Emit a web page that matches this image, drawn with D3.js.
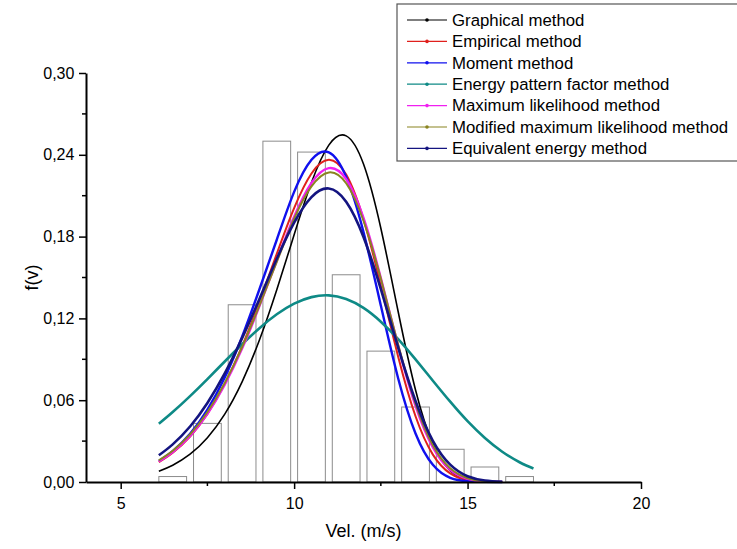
<!DOCTYPE html>
<html>
<head>
<meta charset="utf-8">
<script src="https://cdn.jsdelivr.net/npm/d3@7"></script>
<style>
  body { margin: 0; background: #fff; }
  text { font-family: "Liberation Sans", Arial, sans-serif; fill: #000; }
</style>
</head>
<body>
<svg id="chart" width="737" height="549"></svg>
<script>
// histogram (relative frequency per 1 m/s bin)
const binCenters = [6.5, 7.5, 8.5, 9.5, 10.5, 11.5, 12.5, 13.5, 14.5, 15.5, 16.5]
const binFreq = [0.004, 0.043, 0.130, 0.250, 0.242, 0.152, 0.096, 0.055, 0.024, 0.011, 0.004]

// velocities where the fitted curves were read
const velGrid = [6.1, 6.5, 7, 7.5, 8, 8.5, 9, 9.5, 10, 10.5, 11, 11.5, 12, 12.5, 13, 13.5, 14, 14.5, 15, 15.5, 16, 16.5, 16.9]

const graphical = [0.0079, 0.0123, 0.0204, 0.0325, 0.0498, 0.0735, 0.1041, 0.1410, 0.1814, 0.2197, 0.2471, 0.2539, 0.2332, 0.1861, 0.1249, 0.0675, 0.0279, 0.0083, 0.0017, 0.0002, 0.0000]
const empirical = [0.0146, 0.0215, 0.0334, 0.0500, 0.0720, 0.0996, 0.1322, 0.1674, 0.2009, 0.2263, 0.2364, 0.2255, 0.1927, 0.1442, 0.0919, 0.0482, 0.0201, 0.0063, 0.0014, 0.0002, 0.0000]
const moment = [0.0154, 0.0226, 0.0353, 0.0531, 0.0767, 0.1065, 0.1414, 0.1777, 0.2128, 0.2363, 0.2418, 0.2238, 0.1833, 0.1294, 0.0759, 0.0356, 0.0126, 0.0031, 0.0006, 0.0001, 0.0000]
const energyPattern = [0.0427, 0.0513, 0.0630, 0.0755, 0.0884, 0.1010, 0.1128, 0.1230, 0.1308, 0.1356, 0.1369, 0.1342, 0.1277, 0.1176, 0.1048, 0.0899, 0.0743, 0.0589, 0.0446, 0.0323, 0.0222, 0.0145, 0.0099]
const maxLikelihood = [0.0151, 0.0220, 0.0338, 0.0500, 0.0714, 0.0979, 0.1290, 0.1625, 0.1945, 0.2193, 0.2302, 0.2222, 0.1937, 0.1496, 0.0998, 0.0558, 0.0254, 0.0090, 0.0024, 0.0004, 0.0001]
const modifiedML = [0.0159, 0.0229, 0.0349, 0.0513, 0.0726, 0.0989, 0.1295, 0.1614, 0.1931, 0.2168, 0.2271, 0.2191, 0.1916, 0.1490, 0.1006, 0.0575, 0.0269, 0.0100, 0.0028, 0.0006, 0.0001]
const equivalentEnergy = [0.0196, 0.0276, 0.0407, 0.0580, 0.0796, 0.1055, 0.1342, 0.1637, 0.1902, 0.2090, 0.2153, 0.2056, 0.1797, 0.1415, 0.0985, 0.0594, 0.0302, 0.0127, 0.0042, 0.0011, 0.0002]

const seriesNames = ["Graphical method", "Empirical method", "Moment method", "Energy pattern factor method",
  "Maximum likelihood method", "Modified maximum likelihood method", "Equivalent energy method"]
const seriesValues = [graphical, empirical, moment, energyPattern, maxLikelihood, modifiedML, equivalentEnergy]
const seriesColors = ["#000000", "#e0201c", "#1010ee", "#0e8a86", "#f020f0", "#8a8420", "#141480"]
const seriesWidths = [1.6, 2, 2.4, 2.6, 2.4, 2, 2.6]

const xTicks = [5, 10, 15, 20]
const xMinor = [7.5, 12.5, 17.5]
const yTicks = [0, 0.06, 0.12, 0.18, 0.24, 0.30]
const yMinor = [0.03, 0.09, 0.15, 0.21, 0.27]

const svg = d3.select("#chart")
const x = d3.scaleLinear().domain([4, 20]).range([86, 641])
const y = d3.scaleLinear().domain([0, 0.30]).range([482, 73])
const fmt = (d) => d3.format(".2f")(d).replace(".", ",")

// histogram bars
svg.append("g")
  .selectAll("rect")
  .data(binCenters)
  .join("rect")
  .attr("x", (d) => x(d - 0.4))
  .attr("width", (d) => x(d + 0.4) - x(d - 0.4))
  .attr("y", (d, i) => y(binFreq[i]))
  .attr("height", (d, i) => y(0) - y(binFreq[i]))
  .attr("fill", "none")
  .attr("stroke", "#8c8c8c")
  .attr("stroke-width", 1)

// curves
const line = d3.line()
  .x((d) => x(d[0]))
  .y((d) => y(d[1]))
  .curve(d3.curveNatural)

svg.append("g")
  .selectAll("path")
  .data(seriesValues)
  .join("path")
  .attr("d", (vals) => line(vals.map((v, i) => [velGrid[i], v])))
  .attr("fill", "none")
  .attr("stroke", (d, i) => seriesColors[i])
  .attr("stroke-width", (d, i) => seriesWidths[i])

// axes
const xAxis = svg.append("g").attr("transform", `translate(0,${y(0)})`)
xAxis.call(d3.axisBottom(x).tickValues(xTicks).tickSize(7).tickSizeOuter(0).tickFormat(d3.format("d")))
xAxis.selectAll("line").attr("stroke-width", 1.5)
xAxis.selectAll("text").attr("font-size", 16).attr("dy", "1.05em")
xAxis.append("g").selectAll("line").data(xMinor).join("line")
  .attr("x1", (d) => x(d)).attr("x2", (d) => x(d))
  .attr("y1", 0).attr("y2", 4)
  .attr("stroke", "#000").attr("stroke-width", 1.5)

const yAxis = svg.append("g").attr("transform", `translate(${x(4)},0)`)
yAxis.call(d3.axisLeft(y).tickValues(yTicks).tickSize(7).tickSizeOuter(0).tickFormat(fmt))
yAxis.selectAll("line").attr("stroke-width", 1.5)
yAxis.selectAll("text").attr("font-size", 16).attr("dx", "-0.1em")
yAxis.append("g").selectAll("line").data(yMinor).join("line")
  .attr("y1", (d) => y(d)).attr("y2", (d) => y(d))
  .attr("x1", 0).attr("x2", -4)
  .attr("stroke", "#000").attr("stroke-width", 1.5)

svg.selectAll(".domain").attr("stroke-width", 2)

svg.append("text")
  .attr("x", (x(4) + x(20)) / 2)
  .attr("y", 537)
  .attr("text-anchor", "middle")
  .attr("font-size", 18)
  .text("Vel. (m/s)")

svg.append("text")
  .attr("transform", `translate(38,${(y(0) + y(0.3)) / 2}) rotate(-90)`)
  .attr("text-anchor", "middle")
  .attr("font-size", 18)
  .text("f(v)")

// legend (box runs off the right edge, as in the original)
const legend = svg.append("g").attr("transform", "translate(397,4)")
legend.append("rect")
  .attr("width", 360).attr("height", 157)
  .attr("fill", "#fff").attr("stroke", "#555").attr("stroke-width", 1.2)

const items = legend.selectAll("g.item")
  .data(seriesNames)
  .join("g")
  .attr("class", "item")
  .attr("transform", (d, i) => `translate(0,${16 + i * 21.4})`)

items.append("line")
  .attr("x1", 10).attr("x2", 50)
  .attr("stroke", (d, i) => seriesColors[i])
  .attr("stroke-width", 1.2)
items.append("circle")
  .attr("cx", 30).attr("r", 1.8)
  .attr("fill", (d, i) => seriesColors[i])
items.append("text")
  .attr("x", 55).attr("dy", "0.35em")
  .attr("font-size", 16.8)
  .text((d) => d)
</script>
</body>
</html>
